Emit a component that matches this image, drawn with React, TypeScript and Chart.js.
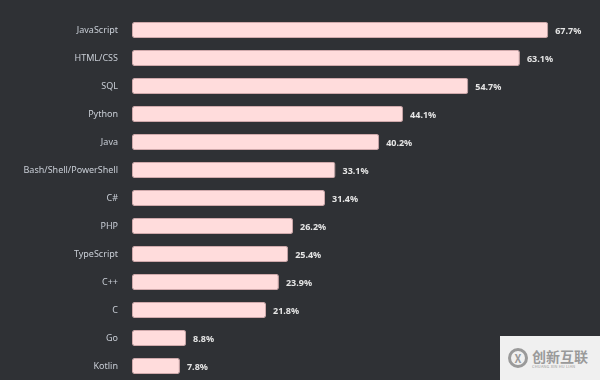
import React, { useEffect, useRef } from "react";
import { Chart, registerables } from "chart.js";

Chart.register(...registerables);

const languages = [
  "JavaScript",
  "HTML/CSS",
  "SQL",
  "Python",
  "Java",
  "Bash/Shell/PowerShell",
  "C#",
  "PHP",
  "TypeScript",
  "C++",
  "C",
  "Go",
  "Kotlin",
];
const usage = [67.7, 63.1, 54.7, 44.1, 40.2, 33.1, 31.4, 26.2, 25.4, 23.9, 21.8, 8.8, 7.8];

const valueLabels = {
  id: "valueLabels",
  afterDatasetsDraw(chart: any) {
    const ctx = chart.ctx;
    const meta = chart.getDatasetMeta(0);
    ctx.save();
    ctx.font = "bold 9px 'Noto Sans', sans-serif";
    ctx.fillStyle = "#e6e6e6";
    ctx.textAlign = "left";
    ctx.textBaseline = "middle";
    meta.data.forEach((bar: any, i: number) => {
      ctx.fillText(usage[i].toFixed(1) + "%", bar.x + 7, bar.y + 1);
    });
    ctx.restore();
  },
};

export default function App() {
  const ref = useRef<HTMLCanvasElement>(null);
  useEffect(() => {
    document.body.style.margin = "0";
    document.body.style.background = "#2f3135";
    const chart = new Chart(ref.current!, {
      type: "bar",
      data: {
        labels: languages,
        datasets: [
          {
            data: usage,
            backgroundColor: "#ffdcdc",
            borderColor: "#cfa9ab",
            borderWidth: 1,
            borderRadius: 2,
            borderSkipped: false,
            categoryPercentage: 1,
            barPercentage: 0.57,
          },
        ],
      },
      options: {
        indexAxis: "y",
        animation: false,
        responsive: false,
        maintainAspectRatio: false,
        layout: { padding: { top: 16, bottom: 0, right: 10, left: 0 } },
        plugins: {
          legend: { display: false },
          tooltip: { enabled: false },
        },
        scales: {
          x: {
            display: false,
            min: 0,
            max: 74.5,
          },
          y: {
            grid: { display: false, drawTicks: false },
            border: { display: false },
            ticks: {
              color: "#c9ced6",
              padding: 14,
              font: { family: "'Noto Sans', sans-serif", size: 9 },
            },
            afterFit(scale: any) {
              scale.width = 132;
              scale.paddingTop = 0;
              scale.paddingBottom = 0;
            },
          },
        },
      },
      plugins: [valueLabels],
    });
    return () => chart.destroy();
  }, []);
  return (
    <div style={{ position: "relative", width: 600, height: 380, background: "#2f3135", overflow: "hidden" }}>
      <canvas ref={ref} width={600} height={380} style={{ display: "block" }} />
      <div
        style={{
          position: "absolute",
          left: 500,
          top: 336,
          width: 100,
          height: 44,
          background: "#f0f0f0",
          display: "flex",
          alignItems: "center",
          paddingLeft: 8,
          boxSizing: "border-box",
          fontFamily: "'Noto Sans CJK SC', sans-serif",
          color: "#9a9a9a",
        }}
      >
        <div
          style={{
            width: 20,
            height: 20,
            borderRadius: "50%",
            border: "3px solid #9a9a9a",
            boxSizing: "border-box",
            marginRight: 4,
            fontSize: 11,
            fontWeight: 700,
            lineHeight: "14px",
            textAlign: "center",
          }}
        >
          X
        </div>
        <div style={{ display: "flex", flexDirection: "column", lineHeight: 1 }}>
          <span style={{ fontSize: 14, fontWeight: 700 }}>创新互联</span>
          <span style={{ fontSize: 4, marginTop: 1, letterSpacing: 0.2 }}>CHUANG XIN HU LIAN</span>
        </div>
      </div>
    </div>
  );
}
